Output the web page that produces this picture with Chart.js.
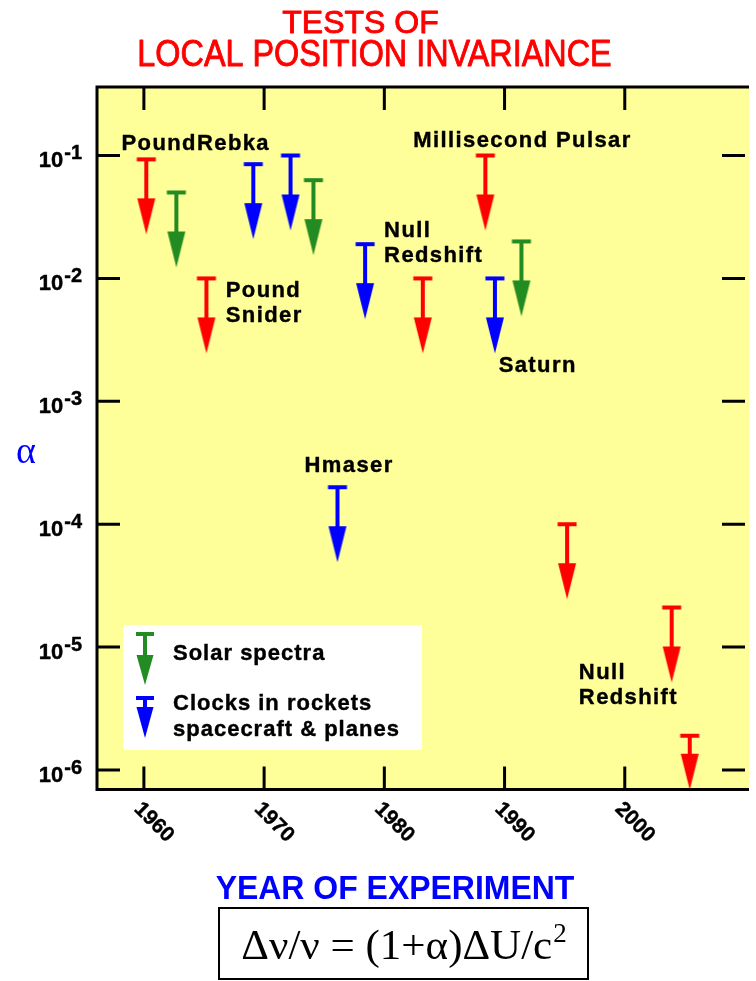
<!DOCTYPE html>
<html>
<head>
<meta charset="utf-8">
<title>Tests of Local Position Invariance</title>
<script src="https://cdn.jsdelivr.net/npm/chart.js@4.4.1/dist/chart.umd.min.js"></script>
<style>
  html, body { margin: 0; padding: 0; background: #ffffff; overflow: hidden; }
  canvas { display: block; }
</style>
</head>
<body>
<canvas id="lpi" width="756" height="981"></canvas>
<script>
// Upper limits on alpha, grouped by kind of experiment
const redshiftYears  = [1960.2, 1965.2, 1983.2, 1988.4, 1995.2, 2003.9, 2005.4];
const redshiftLimits = [0.093, 0.01, 0.01, 0.1, 1.0e-4, 2.1e-5, 1.9e-6];
const solarYears     = [1962.7, 1974.1, 1991.4];
const solarLimits    = [0.05, 0.063, 0.02];
const clockYears     = [1969.1, 1972.2, 1976.1, 1978.4, 1989.2];
const clockLimits    = [0.085, 0.10, 2.0e-4, 0.019, 0.01];

const seriesNames = ['Redshift tests', 'Solar spectra', 'Clocks in rockets\nspacecraft & planes'];
const yearTicks = [1960, 1970, 1980, 1990, 2000];
const alphaTickExponents = [-1, -2, -3, -4, -5, -6];
const experimentNames = ['PoundRebka', 'Pound\nSnider', 'Millisecond Pulsar', 'Null\nRedshift',
                         'Saturn', 'Hmaser', 'Null\nRedshift'];

const SANS = '"Liberation Sans", Arial, Helvetica, sans-serif';
const SERIF = '"Liberation Serif", "Times New Roman", Times, serif';
const RED = '#FF0000', GREEN = '#228B22', BLUE = '#0000FF';
const AREA_FILL = '#FFFF99';

// Upper-limit marker: a cap bar at the limit, a stem and a downward head
function paintArrow(g, cx, cy, color, stem, head, headW, capW) {
  g.fillStyle = color;
  g.fillRect(cx - capW / 2, cy - 2, capW, 4);
  g.fillRect(cx - 2, cy, 4, stem + 1);
  g.beginPath();
  g.moveTo(cx - headW / 2, cy + stem);
  g.lineTo(cx + headW / 2, cy + stem);
  g.lineTo(cx, cy + stem + head);
  g.closePath();
  g.fill();
}

const spriteCache = {};
function arrowSprite(color, stem, head) {
  const key = color + '|' + stem + '|' + head;
  if (spriteCache[key]) return spriteCache[key];
  const c = document.createElement('canvas');
  c.width = 24;
  c.height = 2 * Math.ceil(stem + head + 4);
  paintArrow(c.getContext('2d'), c.width / 2, c.height / 2, color, stem, head, 18, 19);
  spriteCache[key] = c;
  return c;
}

function limitDataset(label, years, limits, color) {
  return {
    label: label,
    data: years.map((x, i) => ({ x: x, y: limits[i] })),
    showLine: false,
    clip: false,
    backgroundColor: color,
    borderColor: color,
    pointRadius: 10,
    pointHoverRadius: 10,
    // the stem shortens when the arrow would run past the bottom axis
    pointStyle: ctx => {
      const chart = ctx.chart, area = chart.chartArea;
      let stem = 39;
      if (area && ctx.raw) {
        const py = chart.scales.y.getPixelForValue(ctx.raw.y);
        stem = Math.max(6, Math.min(39, Math.round(area.bottom - py - 36)));
      }
      return arrowSprite(color, stem, 36);
    }
  };
}

function drawText(g, str, x, y, o) {
  g.save();
  g.font = o.font;
  g.fillStyle = o.color || '#000000';
  g.textAlign = o.align || 'left';
  g.textBaseline = o.baseline || 'alphabetic';
  if ('letterSpacing' in g) g.letterSpacing = (o.spacing || 0) + 'px';
  g.translate(x, y);
  if (o.rotate) g.rotate(o.rotate);
  if (o.sx) g.scale(o.sx, 1);
  g.fillText(str, 0, 0);
  if (o.weight) {
    // a thin outline gives the heavier strokes of the printed lettering
    g.strokeStyle = o.color || '#000000';
    g.lineWidth = o.weight;
    g.lineJoin = 'round';
    g.strokeText(str, 0, 0);
  }
  g.restore();
}

const framePlugin = {
  id: 'frame',
  beforeDraw(chart) {
    const g = chart.ctx, a = chart.chartArea;
    g.save();
    g.fillStyle = '#ffffff';
    g.fillRect(0, 0, chart.width, chart.height);
    g.fillStyle = AREA_FILL;
    g.fillRect(a.left, a.top, a.right - a.left + 4, a.bottom - a.top);
    g.restore();
  },
  afterDraw(chart, args, opts) {
    const g = chart.ctx, a = chart.chartArea;
    const xs = chart.scales.x, ys = chart.scales.y;
    g.save();

    // frame: left, top and bottom edges; the right edge runs past the canvas
    g.strokeStyle = '#000000';
    g.lineWidth = 3;
    g.lineJoin = 'miter';
    g.beginPath();
    g.moveTo(a.right + 4, a.top);
    g.lineTo(a.left, a.top);
    g.lineTo(a.left, a.bottom);
    g.lineTo(a.right + 4, a.bottom);
    g.stroke();

    // inward tick marks on all four sides
    const TL = 23;
    g.beginPath();
    yearTicks.forEach(yr => {
      const px = xs.getPixelForValue(yr);
      g.moveTo(px, a.bottom); g.lineTo(px, a.bottom - TL);
      g.moveTo(px, a.top); g.lineTo(px, a.top + TL);
    });
    alphaTickExponents.forEach(e => {
      const py = ys.getPixelForValue(Math.pow(10, e));
      g.moveTo(a.left, py); g.lineTo(a.left + TL, py);
      g.moveTo(a.right, py); g.lineTo(a.right - TL, py);
    });
    g.stroke();

    // y tick labels as 10 with a raised exponent
    const baseFont = 'bold 22px ' + SANS, expFont = 'bold 20px ' + SANS;
    alphaTickExponents.forEach(e => {
      const py = ys.getPixelForValue(Math.pow(10, e));
      const right = a.left - 15;
      g.font = expFont;
      const expW = g.measureText(String(e)).width;
      drawText(g, String(e), right, py + 3.5, { font: expFont, align: 'right', weight: 0.4 });
      drawText(g, '10', right - expW - 1, py + 12, { font: baseFont, align: 'right', weight: 0.4 });
    });

    // slanted year labels
    yearTicks.forEach(yr => {
      const px = xs.getPixelForValue(yr);
      drawText(g, String(yr), px + 10, a.bottom + 33,
        { font: 'bold 21px ' + SANS, align: 'center', baseline: 'middle', rotate: Math.PI / 4, weight: 0.4 });
    });

    // axis titles
    drawText(g, 'α', 26, 453, { font: '38px ' + SERIF, color: BLUE, align: 'center', baseline: 'middle' });
    drawText(g, 'YEAR OF EXPERIMENT', 395, 899, { font: 'bold 34px ' + SANS, color: BLUE, align: 'center', sx: 0.94 });

    // chart title
    drawText(g, 'TESTS OF', 360.5, 33, { font: '32px ' + SANS, color: RED, align: 'center', weight: 0.9 });
    drawText(g, 'LOCAL POSITION INVARIANCE', 374.5, 66, { font: '37px ' + SANS, color: RED, align: 'center', sx: 0.875, weight: 0.9 });

    // experiment names placed in data coordinates
    const nameFont = 'bold 22px ' + SANS;
    opts.anchors.forEach((pt, i) => {
      const px = xs.getPixelForValue(pt[0]);
      const py = ys.getPixelForValue(pt[1]);
      experimentNames[i].split('\n').forEach((line, k) => {
        drawText(g, line, px, py + k * 25, { font: nameFont, spacing: 1.4, weight: 0.4 });
      });
    });

    // legend box for the two flagged series
    const bx = a.left + 26, by = a.bottom - 164.5;
    g.fillStyle = '#ffffff';
    g.fillRect(bx, by, 299, 125);
    const solar = chart.data.datasets[1], clocks = chart.data.datasets[2];
    paintArrow(g, bx + 22, by + 9, solar.borderColor, 21, 30, 17, 18);
    paintArrow(g, bx + 22, by + 73, clocks.borderColor, 9, 31, 17, 18);
    drawText(g, solar.label, bx + 50, by + 35, { font: nameFont, spacing: 1, weight: 0.4 });
    clocks.label.split('\n').forEach((line, k) => {
      drawText(g, line, bx + 50, by + 85 + k * 26, { font: nameFont, spacing: 1, weight: 0.4 });
    });

    // formula box
    g.strokeStyle = '#000000';
    g.lineWidth = 2;
    g.strokeRect(219, 908, 369, 71);
    const fFont = '43px ' + SERIF, supFont = '27px ' + SERIF;
    g.font = fFont;
    const body = 'Δν/ν = (1+α)ΔU/c';
    const bw = g.measureText(body).width;
    g.font = supFont;
    const sw = g.measureText('2').width;
    const fx = 403.5 - (bw + sw) / 2;
    drawText(g, body, fx, 959, { font: fFont });
    drawText(g, '2', fx + bw + 1, 942, { font: supFont });

    g.restore();
  }
};

new Chart(document.getElementById('lpi'), {
  type: 'scatter',
  data: {
    datasets: [
      limitDataset(seriesNames[0], redshiftYears, redshiftLimits, RED),
      limitDataset(seriesNames[1], solarYears, solarLimits, GREEN),
      limitDataset(seriesNames[2], clockYears, clockLimits, BLUE)
    ]
  },
  options: {
    responsive: false,
    animation: false,
    events: [],
    layout: { padding: { left: 97, top: 87, right: 0, bottom: 191.5 } },
    scales: {
      x: { type: 'linear', min: 1956.1, max: 2010, display: false },
      y: { type: 'logarithmic', min: 6.94e-7, max: 0.3608, display: false }
    },
    plugins: {
      legend: { display: false },
      tooltip: { enabled: false },
      frame: {
        anchors: [
          [1958.14, 0.111], [1966.81, 0.0071], [1982.41, 0.118], [1979.98, 0.0218],
          [1989.51, 0.00174], [1973.36, 2.64e-4], [1996.18, 5.5e-6]
        ]
      }
    }
  },
  plugins: [framePlugin]
});
</script>
</body>
</html>
